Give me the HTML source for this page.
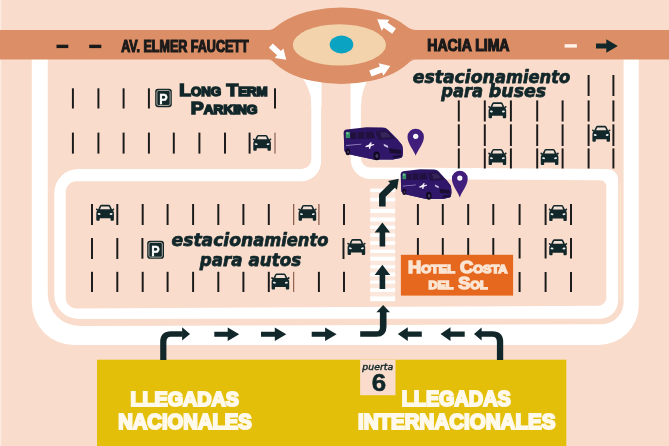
<!DOCTYPE html>
<html lang="es"><head><meta charset="utf-8"><title>Mapa estacionamiento</title>
<style>
html,body{margin:0;padding:0;background:#F9DCCB;}
body{width:669px;height:446px;overflow:hidden;}
svg{display:block;will-change:transform}
.cond{font-family:"Liberation Sans",sans-serif;font-weight:bold;}
.wide{font-family:"DejaVu Sans","Liberation Sans",sans-serif;font-weight:bold;font-style:italic;}
</style></head><body>
<svg width="669" height="446" viewBox="0 0 669 446">
<rect width="669" height="446" fill="#F9DCCB"/>
<rect width="1.3" height="446" fill="#FCECE2"/>

<path d="M31.8 55 V303 A42 42 0 0 0 73.8 344.9 H599 A39.8 39.8 0 0 0 638.8 305 V55 H623.6 V302 A22 22 0 0 1 601.6 324.2 L79.8 326 A32 32 0 0 1 47.8 294 V55 Z" fill="#FFFFFF"/>
<path d="M311.3 70 H321.1 V161.3 A20 20 0 0 1 301.1 181.3 H76.7 A11 11 0 0 0 65.7 192.3 V297.5 A11 11 0 0 0 76.7 308.5 L598.3 305.7 A8 8 0 0 0 606.3 297.7 V187.3 A6 6 0 0 0 600.3 180.3 L370.6 179 A20 20 0 0 1 350.6 159 V70 H360.9 V158.1 A9.5 9.5 0 0 0 370.4 167.6 L607.1 168.9 A11 11 0 0 1 618.1 179.9 V300.7 A18 18 0 0 1 600.1 318.7 L78.3 318.9 A24 24 0 0 1 54.3 294.9 V192.9 A24 24 0 0 1 78.3 168.9 H301.8 A9.5 9.5 0 0 0 311.3 159.4 Z" fill="#FFFFFF"/>
<rect x="619.8" y="185" width="1" height="115" fill="#FBEBD2"/>
<path d="M299 70 L302.8 78.2 Q308.2 86 310.9 97.7 L311.4 107 H321.5 V70 Z" fill="#FFFFFF"/>
<path d="M371.5 70 L367.4 80.2 Q363.2 88 361.6 98 L361 107 H351 V70 Z" fill="#FFFFFF"/>
<rect x="0" y="30" width="669" height="29.5" fill="#DC8E66"/>
<ellipse cx="341.5" cy="45.75" rx="75" ry="38.15" fill="#DC8E66"/>
<path d="M268.5 30 Q273 30 276.6 26.6 L276.6 30 Z M267 59.5 Q271.6 59.5 274.4 62.7 L274.4 59.5 Z M416.5 30 Q410 30 405.4 25.6 L405.4 30 Z M418 59.5 Q411.4 59.5 407.4 63.7 L407.4 59.5 Z" fill="#DC8E66"/>
<ellipse cx="339.4" cy="44.9" rx="46.6" ry="20.7" fill="#F2D3AC"/>
<ellipse cx="341.5" cy="44.5" rx="11.8" ry="8.9" fill="#0BA3C2"/>
<rect x="56.5" y="44.7" width="11.8" height="3.4" fill="#1A1A1A"/>
<rect x="89.2" y="44.7" width="12.1" height="3.4" fill="#1A1A1A"/>
<rect x="564.6" y="44.2" width="12.3" height="3.4" fill="#FFF3EA"/>
<path d="M596 43.5 H606.3 V39.3 L617.8 46 L606.3 52.7 V48.5 H596 Z" fill="#12272A"/>
<g transform="translate(278.55 52.7) rotate(42.4)"><path d="M-10.45 -2.9 H0.6499999999999986 V-6.45 L10.45 0 L0.6499999999999986 6.45 V2.9 H-10.45 Z" fill="#FFFFFF"/></g>
<g transform="translate(385.65 25.2) rotate(-145)"><path d="M-10.3 -3.25 H0.10000000000000142 V-6.7 L10.3 0 L0.10000000000000142 6.7 V3.25 H-10.3 Z" fill="#FFFFFF"/></g>
<g transform="translate(380.35 69.75) rotate(-20.9)"><path d="M-10.65 -3.15 H0.6500000000000004 V-6.8 L10.65 0 L0.6500000000000004 6.8 V3.15 H-10.65 Z" fill="#FFFFFF"/></g>
<rect x="71.93" y="88.3" width="1.95" height="20.20" fill="#1A1A1A"/>
<rect x="97.43" y="88.3" width="1.95" height="20.20" fill="#1A1A1A"/>
<rect x="122.62" y="88.3" width="1.95" height="20.20" fill="#1A1A1A"/>
<rect x="147.93" y="88.3" width="1.95" height="20.20" fill="#1A1A1A"/>
<rect x="274.02" y="88.3" width="1.95" height="20.20" fill="#1A1A1A"/>
<rect x="71.93" y="132.6" width="1.95" height="21.00" fill="#1A1A1A"/>
<rect x="97.43" y="132.6" width="1.95" height="21.00" fill="#1A1A1A"/>
<rect x="122.62" y="132.6" width="1.95" height="21.00" fill="#1A1A1A"/>
<rect x="147.93" y="132.6" width="1.95" height="21.00" fill="#1A1A1A"/>
<rect x="172.83" y="132.6" width="1.95" height="21.00" fill="#1A1A1A"/>
<rect x="198.43" y="132.6" width="1.95" height="21.00" fill="#1A1A1A"/>
<rect x="224.03" y="132.6" width="1.95" height="21.00" fill="#1A1A1A"/>
<rect x="248.62" y="132.6" width="1.95" height="21.00" fill="#1A1A1A"/>
<rect x="274.50" y="132.6" width="1.0" height="21.00" fill="#7A4A3A"/>
<rect x="91.03" y="204" width="1.95" height="21.00" fill="#1A1A1A"/>
<rect x="116.33" y="204" width="1.95" height="21.00" fill="#1A1A1A"/>
<rect x="141.72" y="204" width="1.95" height="21.00" fill="#1A1A1A"/>
<rect x="166.62" y="204" width="1.95" height="21.00" fill="#1A1A1A"/>
<rect x="192.12" y="204" width="1.95" height="21.00" fill="#1A1A1A"/>
<rect x="217.33" y="204" width="1.95" height="21.00" fill="#1A1A1A"/>
<rect x="242.43" y="204" width="1.95" height="21.00" fill="#1A1A1A"/>
<rect x="267.82" y="204" width="1.95" height="21.00" fill="#1A1A1A"/>
<rect x="293.15" y="204" width="1.1" height="21.00" fill="#7A4A3A"/>
<rect x="318.35" y="204" width="1.1" height="21.00" fill="#7A4A3A"/>
<rect x="91.03" y="238" width="1.95" height="21.00" fill="#1A1A1A"/>
<rect x="116.33" y="238" width="1.95" height="21.00" fill="#1A1A1A"/>
<rect x="141.43" y="238" width="1.95" height="20.70" fill="#1A1A1A"/>
<rect x="91.03" y="271.8" width="1.95" height="20.20" fill="#1A1A1A"/>
<rect x="116.33" y="271.8" width="1.95" height="20.20" fill="#1A1A1A"/>
<rect x="141.72" y="271.8" width="1.95" height="20.20" fill="#1A1A1A"/>
<rect x="166.62" y="271.8" width="1.95" height="20.20" fill="#1A1A1A"/>
<rect x="192.12" y="271.8" width="1.95" height="20.20" fill="#1A1A1A"/>
<rect x="217.33" y="271.8" width="1.95" height="20.20" fill="#1A1A1A"/>
<rect x="242.43" y="271.8" width="1.95" height="20.20" fill="#1A1A1A"/>
<rect x="267.82" y="271.8" width="1.95" height="20.20" fill="#1A1A1A"/>
<rect x="293.20" y="271.8" width="1.0" height="20.20" fill="#7A4A3A"/>
<rect x="317.92" y="271.8" width="1.95" height="20.20" fill="#1A1A1A"/>
<rect x="343.02" y="204" width="1.95" height="21.00" fill="#1A1A1A"/>
<rect x="342.52" y="238" width="1.95" height="21.00" fill="#1A1A1A"/>
<rect x="343.02" y="271.8" width="1.95" height="20.20" fill="#1A1A1A"/>
<rect x="416.92" y="204" width="1.95" height="21.00" fill="#1A1A1A"/>
<rect x="441.82" y="204" width="1.95" height="21.00" fill="#1A1A1A"/>
<rect x="467.22" y="204" width="1.95" height="21.00" fill="#1A1A1A"/>
<rect x="492.32" y="204" width="1.95" height="21.00" fill="#1A1A1A"/>
<rect x="518.62" y="204" width="1.95" height="21.00" fill="#1A1A1A"/>
<rect x="544.62" y="204" width="1.95" height="21.00" fill="#1A1A1A"/>
<rect x="570.02" y="204" width="1.95" height="21.00" fill="#1A1A1A"/>
<rect x="416.92" y="238" width="1.95" height="20.50" fill="#1A1A1A"/>
<rect x="441.82" y="238" width="1.95" height="20.50" fill="#1A1A1A"/>
<rect x="467.22" y="238" width="1.95" height="20.50" fill="#1A1A1A"/>
<rect x="492.32" y="238" width="1.95" height="20.50" fill="#1A1A1A"/>
<rect x="518.62" y="238" width="1.95" height="20.50" fill="#1A1A1A"/>
<rect x="544.62" y="238" width="1.95" height="20.50" fill="#1A1A1A"/>
<rect x="570.02" y="238" width="1.95" height="20.50" fill="#1A1A1A"/>
<rect x="518.62" y="272" width="1.95" height="20.00" fill="#1A1A1A"/>
<rect x="544.62" y="272" width="1.95" height="20.00" fill="#1A1A1A"/>
<rect x="570.02" y="272" width="1.95" height="20.00" fill="#1A1A1A"/>
<rect x="587.62" y="75" width="1.95" height="21.00" fill="#1A1A1A"/>
<rect x="612.42" y="75" width="1.95" height="21.00" fill="#1A1A1A"/>
<rect x="457.82" y="100.4" width="1.95" height="21.10" fill="#1A1A1A"/>
<rect x="483.82" y="100.4" width="1.95" height="21.10" fill="#1A1A1A"/>
<rect x="509.92" y="100.4" width="1.95" height="21.10" fill="#1A1A1A"/>
<rect x="536.23" y="100.4" width="1.95" height="21.10" fill="#1A1A1A"/>
<rect x="561.62" y="100.4" width="1.95" height="21.10" fill="#1A1A1A"/>
<rect x="587.62" y="100.4" width="1.95" height="21.10" fill="#1A1A1A"/>
<rect x="612.42" y="100.4" width="1.95" height="21.10" fill="#1A1A1A"/>
<rect x="457.82" y="124.3" width="1.95" height="21.70" fill="#1A1A1A"/>
<rect x="483.82" y="124.3" width="1.95" height="21.70" fill="#1A1A1A"/>
<rect x="509.92" y="124.3" width="1.95" height="21.70" fill="#1A1A1A"/>
<rect x="536.23" y="124.3" width="1.95" height="21.70" fill="#1A1A1A"/>
<rect x="561.62" y="124.3" width="1.95" height="21.70" fill="#1A1A1A"/>
<rect x="587.62" y="124.3" width="1.95" height="21.70" fill="#1A1A1A"/>
<rect x="612.42" y="124.3" width="1.95" height="21.70" fill="#1A1A1A"/>
<rect x="457.82" y="148.4" width="1.95" height="20.10" fill="#1A1A1A"/>
<rect x="483.82" y="148.4" width="1.95" height="20.10" fill="#1A1A1A"/>
<rect x="509.92" y="148.4" width="1.95" height="20.10" fill="#1A1A1A"/>
<rect x="536.23" y="148.4" width="1.95" height="20.10" fill="#1A1A1A"/>
<rect x="561.62" y="148.4" width="1.95" height="20.10" fill="#1A1A1A"/>
<rect x="587.62" y="148.4" width="1.95" height="20.10" fill="#1A1A1A"/>
<rect x="612.42" y="148.4" width="1.95" height="20.10" fill="#1A1A1A"/>
<rect x="370.3" y="187.6" width="24.9" height="113.6" fill="#FBE7DC"/>
<rect x="370.3" y="189" width="24.9" height="3" fill="#FFFFFF"/>
<rect x="370.3" y="197.8" width="24.9" height="3.6" fill="#FFFFFF"/>
<rect x="370.3" y="208.8" width="24.9" height="4.2" fill="#FFFFFF"/>
<rect x="370.3" y="217.5" width="24.9" height="4" fill="#FFFFFF"/>
<rect x="370.3" y="225.6" width="24.9" height="3.4" fill="#FFFFFF"/>
<rect x="370.3" y="233.5" width="24.9" height="3.4" fill="#FFFFFF"/>
<rect x="370.3" y="241.3" width="24.9" height="3.6" fill="#FFFFFF"/>
<rect x="370.3" y="249.6" width="24.9" height="3.4" fill="#FFFFFF"/>
<rect x="370.3" y="256.7" width="24.9" height="4" fill="#FFFFFF"/>
<rect x="370.3" y="265.2" width="24.9" height="3.2" fill="#FFFFFF"/>
<rect x="370.3" y="272.5" width="24.9" height="3.8" fill="#FFFFFF"/>
<rect x="370.3" y="280.5" width="24.9" height="3.2" fill="#FFFFFF"/>
<rect x="370.3" y="288.3" width="24.9" height="3.6" fill="#FFFFFF"/>
<rect x="370.3" y="296.4" width="24.9" height="4.8" fill="#FFFFFF"/>
<defs><g id="car">
<path d="M2.4 4.6 L4.2 0.9 Q4.7 0 5.7 0 H13.1 Q14.1 0 14.6 0.9 L16.4 4.6 L17.6 3.6 Q18.6 3.5 18.6 4.4 Q18.6 5.2 17.8 5.4 L17.2 5.6 Q18.2 6.6 18.2 8.2 V14.9 Q18.2 15.9 17.2 15.9 H15.6 Q14.8 15.9 14.8 14.9 V13.4 H4 V14.9 Q4 15.9 3.2 15.9 H1.6 Q0.6 15.9 0.6 14.9 V8.2 Q0.6 6.6 1.6 5.6 L1 5.4 Q0.2 5.2 0.2 4.4 Q0.2 3.5 1.2 3.6 Z" fill="#12272A"/>
<path d="M4.3 4.4 L5.5 1.6 H13.3 L14.5 4.4 Z" fill="#F4E1D6"/>
<ellipse cx="3.4" cy="9.2" rx="1.5" ry="0.9" transform="rotate(12 3.4 9.2)" fill="#E9EEF0"/><ellipse cx="15.4" cy="9.2" rx="1.5" ry="0.9" transform="rotate(-12 15.4 9.2)" fill="#E9EEF0"/>
</g></defs>
<use href="#car" x="252.7" y="134.9"/>
<use href="#car" x="95.7" y="204.8"/>
<use href="#car" x="298" y="204.9"/>
<use href="#car" x="347" y="239.1"/>
<use href="#car" x="271" y="273.5"/>
<use href="#car" x="488" y="102.3"/>
<use href="#car" x="591.8" y="125.8"/>
<use href="#car" x="488" y="149"/>
<use href="#car" x="540.2" y="149"/>
<use href="#car" x="548.6" y="205"/>
<use href="#car" x="548.6" y="239.3"/>
<g transform="translate(155.2 88.75)"><rect width="16.6" height="18.4" rx="2.8" fill="#12272A"/><rect x="1.7" y="1.7" width="13.200000000000001" height="14.999999999999998" rx="1.7" fill="none" stroke="#D9CCBE" stroke-width="0.8"/><text x="4.000000000000001" y="15.363999999999999" textLength="8.4" lengthAdjust="spacingAndGlyphs" font-family="Liberation Sans,sans-serif" font-weight="bold" font-size="15.2" fill="#FFFFFF" stroke="#FFFFFF" stroke-width="0.35">P</text></g>
<g transform="translate(147.2 240.75)"><rect width="16.8" height="18.1" rx="2.8" fill="#12272A"/><rect x="1.7" y="1.7" width="13.4" height="14.700000000000001" rx="1.7" fill="none" stroke="#D9CCBE" stroke-width="0.8"/><text x="4.1000000000000005" y="15.1135" textLength="8.4" lengthAdjust="spacingAndGlyphs" font-family="Liberation Sans,sans-serif" font-weight="bold" font-size="15.2" fill="#FFFFFF" stroke="#FFFFFF" stroke-width="0.35">P</text></g>
<text class="cond" x="121.2" y="51.9" font-size="15.7" textLength="127.4" lengthAdjust="spacingAndGlyphs" fill="#1A1A1A" stroke="#1A1A1A" stroke-width="1.2" stroke-linejoin="miter" stroke-miterlimit="3">AV. ELMER FAUCETT</text>
<text class="cond" x="427.3" y="51.3" font-size="15.7" textLength="82.2" lengthAdjust="spacingAndGlyphs" fill="#1A1A1A" stroke="#1A1A1A" stroke-width="1.2" stroke-linejoin="miter" stroke-miterlimit="3">HACIA LIMA</text>
<text class="wide" x="412.7" y="82.5" font-size="17" fill="#12272A" stroke="#12272A" stroke-width="0.75" stroke-linejoin="round" xml:space="preserve"><tspan textLength="82.2" lengthAdjust="spacingAndGlyphs">estacion</tspan><tspan textLength="75.4" lengthAdjust="spacingAndGlyphs">amiento</tspan></text>
<text class="wide" x="441.2" y="96.8" font-size="17" fill="#12272A" stroke="#12272A" stroke-width="0.75" stroke-linejoin="round" xml:space="preserve"><tspan textLength="47.6" lengthAdjust="spacingAndGlyphs">para </tspan><tspan textLength="57.4" lengthAdjust="spacingAndGlyphs">buses</tspan></text>
<text class="wide" x="171.6" y="246.0" font-size="17" fill="#12272A" stroke="#12272A" stroke-width="0.75" stroke-linejoin="round" xml:space="preserve"><tspan textLength="81.6" lengthAdjust="spacingAndGlyphs">estacion</tspan><tspan textLength="75.3" lengthAdjust="spacingAndGlyphs">amiento</tspan></text>
<text class="wide" x="199.8" y="265.6" font-size="17" fill="#12272A" stroke="#12272A" stroke-width="0.75" stroke-linejoin="round" xml:space="preserve"><tspan textLength="48.6" lengthAdjust="spacingAndGlyphs">para </tspan><tspan textLength="52.8" lengthAdjust="spacingAndGlyphs">autos</tspan></text>
<text class="cond" x="179.2" y="96.2" font-size="17.4" style="font-variant-caps:small-caps" textLength="88.4" lengthAdjust="spacingAndGlyphs" fill="#12272A" stroke="#12272A" stroke-width="1.55" stroke-linejoin="miter" stroke-miterlimit="3">Long Term</text>
<text class="cond" x="190.8" y="114.4" font-size="17.2" style="font-variant-caps:small-caps" textLength="66.6" lengthAdjust="spacingAndGlyphs" fill="#12272A" stroke="#12272A" stroke-width="1.55" stroke-linejoin="miter" stroke-miterlimit="3">Parking</text>
<rect x="400.9" y="254.8" width="112.2" height="40.8" fill="#E6681F"/>
<text class="cond" x="408.0" y="272.7" font-size="15.9" style="font-variant-caps:small-caps" textLength="99.4" lengthAdjust="spacingAndGlyphs" fill="#FBE5D2" stroke="#FBE5D2" stroke-width="1.4" stroke-linejoin="miter" stroke-miterlimit="3">Hotel Costa</text>
<text class="cond" x="428.4" y="289.3" font-size="15.9" style="font-variant-caps:small-caps" textLength="59.2" lengthAdjust="spacingAndGlyphs" fill="#FBE5D2" stroke="#FBE5D2" stroke-width="1.4" stroke-linejoin="miter" stroke-miterlimit="3">del Sol</text>
<rect x="97" y="359.7" width="469.3" height="87" fill="#E3BF0A"/>
<rect x="360.1" y="359.7" width="35.4" height="35.5" fill="#F9DCCB"/>
<text class="cond" x="130.4" y="406.2" font-size="20.8" textLength="108.6" lengthAdjust="spacingAndGlyphs" fill="#FFF9EC" stroke="#FFF9EC" stroke-width="2.1" stroke-linejoin="miter" stroke-miterlimit="3">LLEGADAS</text>
<text class="cond" x="118.2" y="429.1" font-size="21.6" textLength="133.6" lengthAdjust="spacingAndGlyphs" fill="#FFF9EC" stroke="#FFF9EC" stroke-width="2.1" stroke-linejoin="miter" stroke-miterlimit="3">NACIONALES</text>
<text class="cond" x="401.7" y="406.2" font-size="21.6" textLength="109.0" lengthAdjust="spacingAndGlyphs" fill="#FFF9EC" stroke="#FFF9EC" stroke-width="2.1" stroke-linejoin="miter" stroke-miterlimit="3">LLEGADAS</text>
<text class="cond" x="358.0" y="429.1" font-size="21.6" textLength="197.4" lengthAdjust="spacingAndGlyphs" fill="#FFF9EC" stroke="#FFF9EC" stroke-width="2.1" stroke-linejoin="miter" stroke-miterlimit="3">INTERNACIONALES</text>
<text x="362.3" y="369.9" font-family="DejaVu Sans,sans-serif" font-style="italic" font-size="8.3" textLength="30.9" lengthAdjust="spacingAndGlyphs" fill="#12272A" stroke="#12272A" stroke-width="0.4">puerta</text>
<text x="378.9" y="390.6" text-anchor="middle" font-family="Liberation Sans,sans-serif" font-weight="bold" font-size="24" textLength="14.4" lengthAdjust="spacingAndGlyphs" fill="#12272A" stroke="#12272A" stroke-width="0.5">6</text>
<path d="M160.2 360 V342 Q160.2 331.2 171 331.2 H182.5 V336.7 H171 Q166.4 336.7 166.4 342 V360 Z" fill="#12272A"/>
<path d="M182.1 327.3 L190 333.9 L182.1 340.5 Z" fill="#12272A"/>
<path d="M214.3 331.7 H227.7 V327.5 L239.2 334.2 L227.7 340.9 V336.7 H214.3 Z" fill="#12272A"/>
<path d="M261 331.7 H274.8 V327.5 L286.3 334.2 L274.8 340.9 V336.7 H261 Z" fill="#12272A"/>
<path d="M311.7 331.7 H325.1 V327.5 L336.6 334.2 L325.1 340.9 V336.7 H311.7 Z" fill="#12272A"/>
<path d="M360.2 331.3 H376 Q379.9 331.3 379.9 327.4 V311.5 H386.5 V326.7 Q386.5 336.7 376.5 336.7 H360.2 Z" fill="#12272A"/>
<path d="M376.4 312.3 L383.2 304.9 L390 312.3 Z" fill="#12272A"/>
<path d="M421.8 331.5 H407.8 V327.3 L397.8 334.1 L407.8 340.90000000000003 V336.70000000000005 H421.8 Z" fill="#12272A"/>
<path d="M464.7 331.5 H450.5 V327.3 L440.5 334.1 L450.5 340.90000000000003 V336.70000000000005 H464.7 Z" fill="#12272A"/>
<path d="M503.2 360 V342 Q503.2 331.2 492.4 331.2 H481 V336.7 H492.4 Q496.9 336.7 496.9 342 V360 Z" fill="#12272A"/>
<path d="M481.6 327.5 L474 334 L481.6 340.5 Z" fill="#12272A"/>
<path d="M379.59999999999997 289 V274.90000000000003 H374.65 L382.4 264.8 L390.15 274.90000000000003 H385.2 V289 Z" fill="#12272A"/>
<path d="M379.59999999999997 246.5 V232.6 H374.65 L382.4 222.5 L390.15 232.6 H385.2 V246.5 Z" fill="#12272A"/>
<path d="M382.35 206.5 V195.4 L393 184.8" fill="none" stroke="#12272A" stroke-width="6.6" stroke-linejoin="miter"/>
<path d="M388 180.9 L398.7 178.8 L397 189.7 Z" fill="#12272A"/>
<path d="M415.7 155.7 C414.2 150.7 407.5 143.39999999999998 407.5 136.89999999999998 A8.2 8.2 0 0 1 423.9 136.89999999999998 C423.9 143.39999999999998 417.2 150.7 415.7 155.7 Z" fill="#411D7C"/><circle cx="415.7" cy="136.29999999999998" r="2.6" fill="#FFFFFF"/><circle cx="415.7" cy="136.29999999999998" r="1.0" fill="#EDE4F3"/>
<path d="M459.8 197.4 C458.3 192.4 451.90000000000003 185.20000000000002 451.90000000000003 178.70000000000002 A7.9 7.9 0 0 1 467.7 178.70000000000002 C467.7 185.20000000000002 461.3 192.4 459.8 197.4 Z" fill="#411D7C"/><circle cx="459.8" cy="178.10000000000002" r="2.6" fill="#FFFFFF"/><circle cx="459.8" cy="178.10000000000002" r="1.0" fill="#EDE4F3"/>
<defs><g id="van">
<path d="M2 26 L30 33.6 L52 33.4 L60.5 30.5 L58 27 L6 23 Z" fill="#F3E3D6"/>
<path d="M0 5.5 Q0.2 2.6 3 2.2 L22.8 0 L39.1 0.2 Q42.5 0.4 44.2 2.3 L53.3 11.5 L58.2 17.4 Q59.3 19.5 59.4 25.2 L58.8 29 Q58.6 30.2 57 30.6 L49.3 32.3 H29.9 L6.6 27.2 L1.6 24.8 Q0.8 24.2 0.8 22 Z" fill="#2B1460"/>
<path d="M0.6 12 L31.5 11.2 L36 13 L53.3 11.5 L58.2 17.4 Q59.3 19.5 59.4 25.2 L58.8 29 Q58.6 30.2 57 30.6 L49.3 32.3 H29.9 L6.6 27.2 L1.6 24.8 Q0.8 24.2 0.8 22 Z" fill="#301769"/>
<path d="M6.8 5.4 L29.6 4.4 L31.6 10.9 L6.8 11.6 Z" fill="#21113F"/>
<path d="M31.6 4.2 L43.6 3.3 L51.4 11 L35 12.4 Z" fill="#241245"/>
<path d="M13.5 5.1 V11.4 M21.5 4.8 V11.2 M30.6 4.3 L32.8 11.5" stroke="#351A6D" stroke-width="1.2"/>
<path d="M36.5 5.2 L42.5 4.6 L47.5 9.6 L38.5 10.6 Z" fill="#3B2A60" opacity="0.8"/>
<rect x="2.2" y="4.8" width="4.2" height="6" fill="#35906A"/><rect x="2.8" y="4.8" width="2" height="2.2" fill="#79C299"/>
<path d="M21.8 18.6 L25 17.4 L27 15 L28.2 15.2 L27.4 17.2 L30.4 16.6 L30.6 17.8 L27.2 19 L26.6 21.4 L25.4 21.4 L25.2 19.4 L22 20 Z" fill="#F4EEFA"/>
<path d="M2.5 17.8 L17.8 16.4 L17.8 17.2 L2.5 18.7 Z" fill="#9A86C4"/>
<path d="M40 16.4 L44.4 18.4 L44.6 20.6 L40.4 18.6 Z" fill="#C9BEE0"/>
<path d="M45.4 21 L57.4 22.6 L57.8 26.6 L46.2 25.6 Z" fill="#1A0D33"/>
<path d="M49 28.6 L58.2 27.4 L58 29.4 L49.4 31 Z" fill="#1A0D33"/>
<ellipse cx="4.3" cy="24.6" rx="2.3" ry="3.3" fill="#120822"/>
<ellipse cx="33" cy="28.6" rx="3.3" ry="4.3" fill="#120822"/>
<ellipse cx="33.3" cy="28.8" rx="1.5" ry="2" fill="#46395E"/>
<ellipse cx="4.5" cy="24.8" rx="1" ry="1.5" fill="#46395E"/>
</g></defs>
<use href="#van" transform="translate(343.6 127.3)"/>
<use href="#van" transform="translate(400.6 169.2) scale(0.856 0.926)"/>
</svg></body></html>
